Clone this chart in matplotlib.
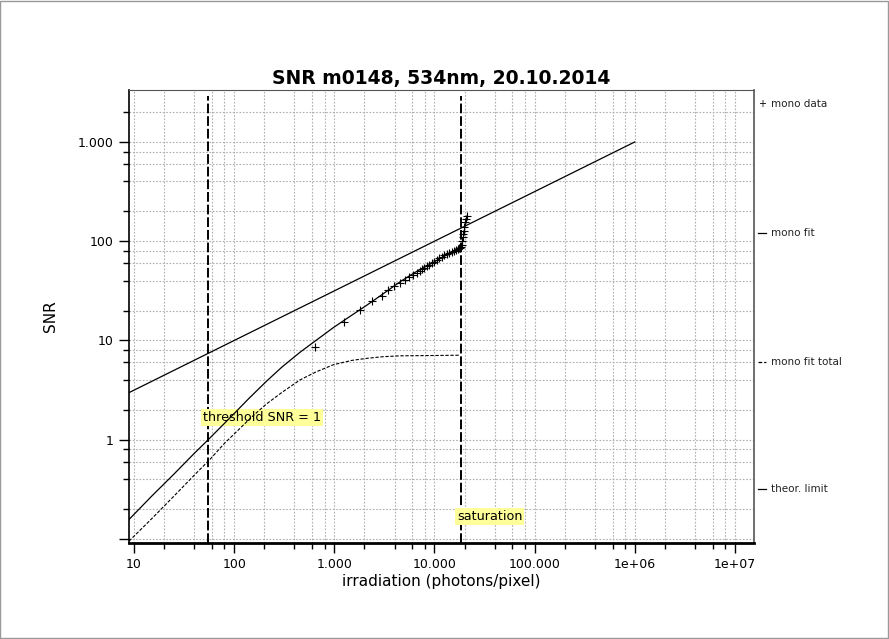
import matplotlib
matplotlib.use('Agg')
import matplotlib.pyplot as plt
from matplotlib.ticker import LogLocator, FuncFormatter, NullFormatter
from matplotlib.lines import Line2D
from matplotlib.patches import Rectangle

# measured points (mono data)
data_x = [641, 1256, 1803, 2360, 2970, 3460, 3950, 4540, 5100, 5600, 6100, 6640, 7100,
          7460, 7900, 8380, 8900, 9410, 9900, 10560, 11200, 11850, 12500, 13300, 14000,
          14800, 15600, 16300, 17000, 17600, 18100, 18500, 18700, 19000, 19200, 19400,
          19600, 19900, 20300, 20700, 21000]
data_y = [8.6, 15.2, 20.4, 24.7, 28.2, 31.9, 35.0, 38.0, 41.0, 43.5, 46.0, 48.0, 50.5,
          52.0, 54.0, 56.0, 58.0, 60.0, 62.0, 65.0, 67.5, 70.0, 72.0, 74.5, 76.5,
          78.5, 80.5, 82.0, 83.5, 85.0, 86.0, 87.0, 92, 100, 110, 118,
          128, 140, 155, 168, 180]

# mono fit
fit_x = [8.9, 15, 25, 40, 55, 75, 98, 140, 211, 300, 454, 620, 800, 980, 1400, 2100,
         3000, 4530, 6500, 9400, 13000, 18000]
fit_y = [0.157, 0.27, 0.45, 0.73, 1.0, 1.37, 1.8, 2.6, 3.9, 5.4, 7.6, 9.6, 11.6, 13.5,
         17.2, 22.6, 29.0, 39.0, 49.0, 60.0, 72.0, 86.0]

# mono fit total
total_x = [8.9, 15, 25, 40, 57, 80, 98, 150, 211, 300, 454, 650, 981, 1500, 2100, 3000,
           4530, 9400, 18000]
total_y = [0.095, 0.16, 0.27, 0.44, 0.63, 0.92, 1.12, 1.7, 2.3, 3.0, 4.0, 4.8, 5.7, 6.3,
           6.6, 6.85, 7.0, 7.05, 7.1]

# theoretical limit
theor_x = [8.9, 100, 1000, 10000, 100000, 1000000]
theor_y = [2.98, 10, 31.6, 100, 316, 1000]

threshold_x = 55
saturation_x = 18400

legend_labels = ['mono data', 'mono fit', 'mono fit total', 'theor. limit']


def fmt(v, pos):
    if v >= 1e6:
        return '%.0e' % v
    if v < 1:
        return ''
    return '{:,.0f}'.format(v).replace(',', '.')


fig = plt.figure(figsize=(8.89, 6.39), dpi=100)
ax = fig.add_axes([0.1451, 0.1502, 0.7030, 0.7090])

ax.set_xscale('log')
ax.set_yscale('log')
ax.set_xlim(8.9, 1.55e7)
ax.set_ylim(0.091, 3340)

ax.plot(theor_x, theor_y, color='black', lw=0.9, zorder=3)
ax.plot(fit_x, fit_y, color='black', lw=0.9, zorder=3)
ax.plot(total_x, total_y, color='black', lw=0.8, linestyle=(0, (3, 1.5)), zorder=3)
ax.plot(data_x, data_y, linestyle='none', marker='+', color='black', markersize=5.5,
        mew=0.8, zorder=3)

# vertical markers sit below the yellow labels
ax.axvline(threshold_x, ymin=0, ymax=0.987, color='black', lw=1.4,
           linestyle=(0, (5, 1.5)), zorder=1)
ax.axvline(saturation_x, ymin=0, ymax=0.987, color='black', lw=1.4,
           linestyle=(0, (5, 1.5)), zorder=1)

ax.text(49, 1.66, 'threshold SNR = 1', fontsize=9.2, va='center', ha='left', zorder=1.5,
        bbox=dict(facecolor='#ffff99', edgecolor='none', pad=1.5))
ax.text(16760, 0.168, 'saturation', fontsize=9.2, va='center', ha='left', zorder=1.5,
        bbox=dict(facecolor='#ffff99', edgecolor='none', pad=1.5))

# ticks and grid
for axis in (ax.xaxis, ax.yaxis):
    axis.set_major_locator(LogLocator(base=10, numticks=20))
    axis.set_minor_locator(LogLocator(base=10, subs=(2, 4, 6, 8), numticks=20))
    axis.set_major_formatter(FuncFormatter(fmt))
    axis.set_minor_formatter(NullFormatter())

ax.set_axisbelow(True)
ax.grid(True, which='both', color='#b0b0b0', lw=0.8, linestyle=(0, (1.5, 1.5)))
ax.tick_params(which='major', direction='out', length=7, width=1, labelsize=9, pad=4)
ax.tick_params(which='minor', direction='out', length=4, width=1)

ax.spines['left'].set_linewidth(1.2)
ax.spines['bottom'].set_linewidth(2)
ax.spines['top'].set_color('#555555')
ax.spines['right'].set_color('#555555')
ax.spines['top'].set_linewidth(0.8)
ax.spines['right'].set_linewidth(1.2)

ax.set_title('SNR m0148, 534nm, 20.10.2014', fontsize=13.5, fontweight='bold', pad=4)
ax.set_xlabel('irradiation (photons/pixel)', fontsize=11, labelpad=2)
ax.set_ylabel('SNR', fontsize=11, labelpad=14)

# legend on the right side, spread along the axis
leg_y = [1 - 104 / 639, 1 - 233 / 639, 1 - 362 / 639, 1 - 489 / 639]
fig.text(762 / 889, leg_y[0], '+', fontsize=7, ha='center', va='center')
fig.add_artist(Line2D([758 / 889, 766 / 889], [leg_y[1], leg_y[1]], color='black', lw=0.9))
fig.add_artist(Line2D([758 / 889, 766 / 889], [leg_y[2], leg_y[2]], color='black', lw=0.9,
                      linestyle=(0, (3, 1.5))))
fig.add_artist(Line2D([758 / 889, 766 / 889], [leg_y[3], leg_y[3]], color='black', lw=0.9))
for lab, yy in zip(legend_labels, leg_y):
    fig.text(771 / 889, yy, lab, fontsize=7.5, ha='left', va='center', color='#222222')

# thin frame round the whole picture
fig.add_artist(Rectangle((0.0005, 0.0008), 0.998, 0.998, transform=fig.transFigure,
                         fill=False, edgecolor='#999999', lw=1))

fig.savefig('out.png', dpi=100)
